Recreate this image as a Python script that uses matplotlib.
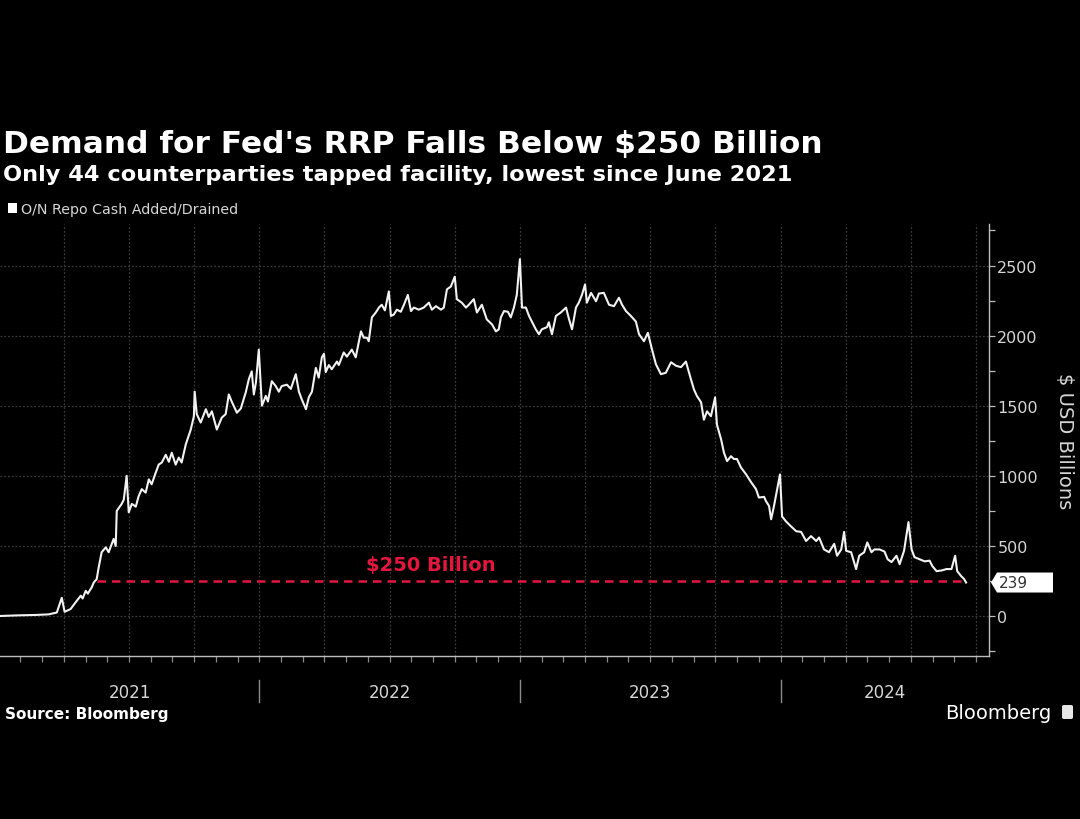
import matplotlib
matplotlib.use("Agg")
import matplotlib.pyplot as plt
import matplotlib.transforms as mtransforms
from matplotlib.patches import Polygon, FancyBboxPatch, Rectangle
from matplotlib.ticker import MultipleLocator

# --- data: Fed overnight reverse repo usage, $bn ---
t = [
    2021.000, 2021.077, 2021.146, 2021.192, 2021.223, 2021.242, 2021.253, 2021.276,
    2021.296, 2021.315, 2021.322, 2021.334, 2021.342, 2021.357, 2021.365, 2021.376,
    2021.384, 2021.395, 2021.411, 2021.422, 2021.441, 2021.449, 2021.453, 2021.472,
    2021.480, 2021.491, 2021.499, 2021.511, 2021.526, 2021.537, 2021.549, 2021.564,
    2021.576, 2021.587, 2021.603, 2021.614, 2021.626, 2021.641, 2021.653, 2021.664,
    2021.679, 2021.691, 2021.702, 2021.718, 2021.737, 2021.749, 2021.752, 2021.760,
    2021.775, 2021.795, 2021.806, 2021.818, 2021.837, 2021.856, 2021.871, 2021.883,
    2021.894, 2021.914, 2021.929, 2021.948, 2021.960, 2021.971, 2021.979, 2021.987,
    2021.998, 2022.010, 2022.025, 2022.033, 2022.048, 2022.063, 2022.075, 2022.086,
    2022.106, 2022.121, 2022.140, 2022.152, 2022.163, 2022.179, 2022.190, 2022.202,
    2022.217, 2022.228, 2022.240, 2022.248, 2022.255, 2022.267, 2022.278, 2022.298,
    2022.305, 2022.324, 2022.336, 2022.355, 2022.370, 2022.390, 2022.401, 2022.413,
    2022.420, 2022.432, 2022.447, 2022.459, 2022.470, 2022.482, 2022.497, 2022.505,
    2022.516, 2022.528, 2022.543, 2022.555, 2022.570, 2022.582, 2022.593, 2022.612,
    2022.631, 2022.651, 2022.662, 2022.678, 2022.697, 2022.708, 2022.720, 2022.735,
    2022.750, 2022.758, 2022.777, 2022.793, 2022.804, 2022.823, 2022.835, 2022.854,
    2022.873, 2022.893, 2022.908, 2022.919, 2022.927, 2022.939, 2022.954, 2022.965,
    2022.977, 2022.988, 2023.000, 2023.008, 2023.023, 2023.035, 2023.046, 2023.061,
    2023.073, 2023.084, 2023.104, 2023.111, 2023.123, 2023.138, 2023.157, 2023.177,
    2023.188, 2023.200, 2023.215, 2023.226, 2023.238, 2023.250, 2023.257, 2023.273,
    2023.292, 2023.303, 2023.322, 2023.342, 2023.361, 2023.380, 2023.392, 2023.407,
    2023.426, 2023.445, 2023.457, 2023.476, 2023.491, 2023.507, 2023.522, 2023.541,
    2023.560, 2023.580, 2023.599, 2023.618, 2023.637, 2023.656, 2023.668, 2023.679,
    2023.695, 2023.706, 2023.718, 2023.733, 2023.749, 2023.756, 2023.772, 2023.783,
    2023.795, 2023.810, 2023.821, 2023.833, 2023.848, 2023.868, 2023.887, 2023.906,
    2023.917, 2023.937, 2023.944, 2023.956, 2023.964, 2023.975, 2023.998, 2024.006,
    2024.021, 2024.040, 2024.060, 2024.079, 2024.098, 2024.117, 2024.137, 2024.148,
    2024.167, 2024.186, 2024.206, 2024.217, 2024.233, 2024.244, 2024.252, 2024.271,
    2024.290, 2024.302, 2024.321, 2024.333, 2024.349, 2024.360, 2024.380, 2024.399,
    2024.411, 2024.426, 2024.445, 2024.457, 2024.474, 2024.491, 2024.503, 2024.514,
    2024.534, 2024.553, 2024.572, 2024.583, 2024.599, 2024.618, 2024.637, 2024.656,
    2024.670, 2024.678, 2024.693, 2024.704, 2024.712,
]
rrp = [
    0, 5, 8, 12, 25, 130, 30, 50,
    100, 145, 125, 180, 160, 205, 240, 263,
    350, 455, 490, 455, 550, 500, 750, 800,
    830, 1000, 740, 800, 780, 855, 905, 880,
    975, 940, 1025, 1080, 1095, 1150, 1100, 1165,
    1080, 1130, 1095, 1225, 1330, 1425, 1600, 1440,
    1380, 1475, 1420, 1460, 1330, 1415, 1440, 1580,
    1530, 1450, 1480, 1595, 1690, 1745, 1580, 1665,
    1900, 1500, 1570, 1530, 1675, 1640, 1600, 1640,
    1650, 1620, 1725, 1600, 1545, 1475, 1560, 1600,
    1770, 1700, 1845, 1870, 1740, 1790, 1760, 1815,
    1790, 1880, 1850, 1900, 1845, 2030, 1985, 1985,
    1960, 2130, 2165, 2200, 2220, 2180, 2315, 2140,
    2150, 2185, 2170, 2220, 2290, 2175, 2200, 2185,
    2200, 2235, 2185, 2210, 2185, 2200, 2330, 2350,
    2420, 2260, 2235, 2200, 2220, 2260, 2165, 2220,
    2115, 2080, 2030, 2045, 2130, 2175, 2170, 2130,
    2200, 2290, 2545, 2200, 2200, 2140, 2100, 2045,
    2010, 2045, 2060, 2095, 2010, 2140, 2165, 2200,
    2120, 2045, 2200, 2235, 2290, 2365, 2235, 2305,
    2245, 2300, 2305, 2220, 2210, 2270, 2220, 2175,
    2140, 2100, 2010, 1960, 2020, 1900, 1795, 1725,
    1735, 1810, 1785, 1775, 1815, 1690, 1615, 1570,
    1525, 1400, 1460, 1425, 1560, 1365, 1260, 1165,
    1105, 1140, 1120, 1120, 1060, 1010, 955, 905,
    845, 850, 820, 785, 690, 785, 1010, 710,
    675, 640, 605, 600, 535, 570, 535, 560,
    475, 455, 515, 430, 475, 600, 465, 455,
    335, 430, 455, 525, 455, 475, 475, 460,
    405, 385, 430, 370, 465, 670, 475, 420,
    405, 390, 395, 355, 320, 325, 335, 335,
    430, 320, 285, 265, 239,
]
THRESHOLD = 250
years = [2021, 2022, 2023, 2024]

TITLE = "Demand for Fed's RRP Falls Below $250 Billion"
SUBTITLE = "Only 44 counterparties tapped facility, lowest since June 2021"
LEGEND = "O/N Repo Cash Added/Drained"
RED = "#e3173e"
GRID = "#3a3a3a"
AXIS = "#bdbdbd"
TXT = "#d6d6d6"

W, H, DPI = 1080, 820, 100
fig = plt.figure(figsize=(W / DPI, H / DPI), dpi=DPI, facecolor="black")
ax = fig.add_axes([0, (H - 657) / H, 989 / W, (657 - 225) / H])
ax.set_facecolor("black")

ax.plot(t, rrp, color="#f2f2f2", lw=1.5, solid_joinstyle="round", zorder=3)

# $250bn reference line from first crossing to the latest print
i0 = next(i for i, v in enumerate(rrp) if v >= THRESHOLD)
ax.plot([t[i0], t[-1]], [THRESHOLD, THRESHOLD], color=RED, lw=1.8,
        dashes=(3.4, 2.4), zorder=2)
ax.text(2022.66, THRESHOLD + 115, "$250 Billion", color=RED, fontsize=14,
        fontweight="bold", ha="center", va="center")

x0, x1 = 2021.005, 2024.8
ax.set_xlim(x0, x1)
ax.set_ylim(-285, 2796)

ax.yaxis.tick_right()
ax.yaxis.set_major_locator(MultipleLocator(500))
ax.yaxis.set_minor_locator(MultipleLocator(250))
ax.tick_params(axis="y", which="both", colors=AXIS, length=4, width=0.9,
               labelsize=11.5, labelcolor=TXT, pad=2)
ax.xaxis.set_major_locator(MultipleLocator(0.25))
ax.xaxis.set_minor_locator(MultipleLocator(1 / 12))
ax.tick_params(axis="x", which="both", colors="#8a8a8a", length=4, width=0.9,
               labelbottom=False)
ax.grid(True, which="major", color=GRID, linestyle=(0, (1.5, 1.5)), lw=0.9)
for s in ("top", "left"):
    ax.spines[s].set_visible(False)
for s in ("right", "bottom"):
    ax.spines[s].set_color(AXIS)
    ax.spines[s].set_linewidth(1.0)

# year labels centred in their visible span, with separators between them
blend = mtransforms.blended_transform_factory(ax.transData, ax.transAxes)
for y in years:
    c = (max(y, x0) + min(y + 1, x1)) / 2
    ax.text(c, -0.083, str(y), transform=blend, ha="center", va="center",
            color=TXT, fontsize=12)
    if y > years[0]:
        ax.plot([y, y], [-0.056, -0.106], transform=blend, clip_on=False,
                color="#8a8a8a", lw=1.0)

# last value tag on the right axis
fig.canvas.draw()
px, py = ax.transData.transform((x1, rrp[-1]))
tag = Polygon([(px + 2, py), (px + 8, py + 10), (px + 64, py + 10),
               (px + 64, py - 10), (px + 8, py - 10)], closed=True,
              facecolor="white", edgecolor="none",
              transform=mtransforms.IdentityTransform())
fig.add_artist(tag)
fig.text((px + 10) / W, py / H, str(rrp[-1]), color="#333333", fontsize=11,
         ha="left", va="center")

fig.text(1065 / W, 1 - 441 / H, "$ USD Billions", rotation=270, color=TXT,
         fontsize=14, ha="center", va="center")

# headline block
fig.text(3 / W, 1 - 153 / H, TITLE, color="white", fontsize=22.5,
         fontweight="bold", va="baseline")
fig.text(3 / W, 1 - 181 / H, SUBTITLE, color="white", fontsize=16.2,
         fontweight="bold", va="baseline")
fig.add_artist(Rectangle((8 / W, 1 - 214 / H), 9 / W, 10 / H,
                         facecolor="white", edgecolor="none",
                         transform=fig.transFigure))
fig.text(21 / W, 1 - 214 / H, LEGEND, color=TXT, fontsize=10.3, va="baseline")

# footer
fig.text(5 / W, 1 - 719 / H, "Source: Bloomberg", color="white", fontsize=11,
         fontweight="bold", va="baseline")
fig.text(1051 / W, 1 - 719 / H, "Bloomberg", color="white", fontsize=14,
         ha="right", va="baseline")
fig.add_artist(FancyBboxPatch((1062 / W, 1 - 720 / H), 11 / W, 14 / H,
                              boxstyle="round,pad=0,rounding_size=0.002",
                              facecolor="#e6e6e6", edgecolor="none",
                              transform=fig.transFigure))

fig.savefig("out.png", dpi=DPI, facecolor="black")
